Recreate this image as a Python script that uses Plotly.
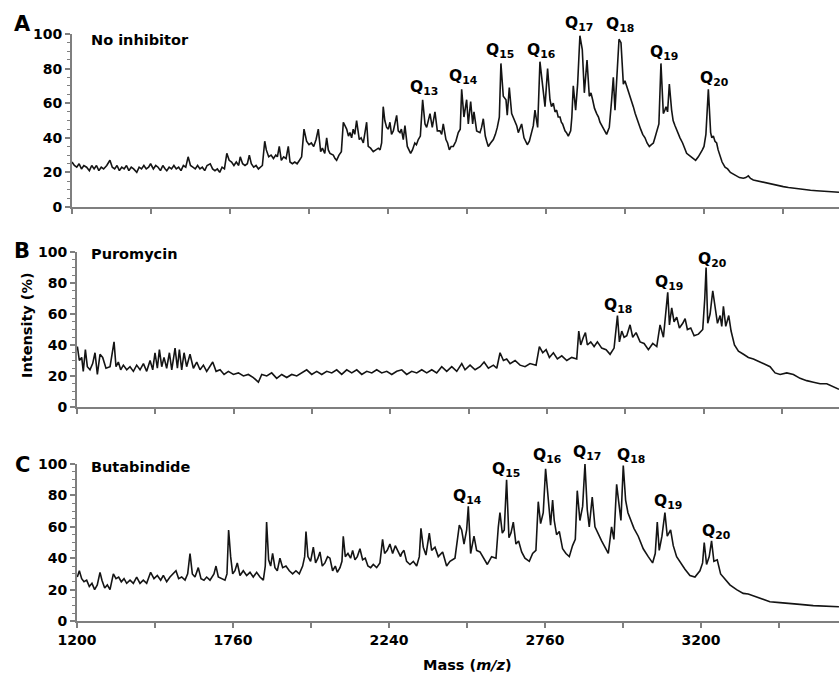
import plotly.graph_objects as go

# x values are spectrum channel positions (100 channels per axis tick)
tick_vals = [0, 200, 400, 600, 800]
tick_text = ["1200", "1760", "2240", "2760", "3200"]

A_x = [0, 3, 6, 9, 12, 15, 18.5, 22, 25, 28, 31, 34, 37, 40, 44, 48, 51, 54, 57, 60, 63, 66, 69, 72, 75, 78, 82, 85, 88, 91, 94, 97, 99.5,
       103, 106, 109, 112, 115, 118, 120, 123, 126, 129, 132, 135, 138, 141, 144, 147, 150, 153, 156, 159, 162, 165, 168, 171, 175, 178,
       181, 184, 187, 190, 193, 196, 199, 202, 205, 208, 211, 213, 216, 219, 222, 224.5, 227, 230, 233, 236, 239, 241, 244, 246, 249, 252,
       255, 258, 260, 262.4, 265, 268, 271, 273.8, 276, 279, 282, 285, 288, 290.7, 293.7, 297, 300, 303, 306, 309, 311.8, 314.8, 317, 320,
       322.4, 324.5, 326.6, 330.8, 333, 335, 338, 341, 343.5, 347.7, 350, 351.9, 354, 356, 358, 360.3, 363.7, 366, 368.8, 373, 375, 378,
       381.4, 384, 387.8, 390, 392, 394, 396, 398.3, 400.5, 402.5, 404.5, 406.8, 411, 413, 415.2, 417, 419.4, 421.5, 424.5, 428.7, 431,
       434, 436, 438.4, 441, 443.9, 446.9, 449, 451, 453.2, 456.1, 459.5, 462.5, 465.8, 468, 470, 473.4, 475.5, 477.7, 480, 482.7, 486,
       489, 491.5, 493.3, 496.2, 499.6, 501.7, 504.7, 507.2, 508.9, 512.3, 516.5, 518.5, 520.7, 523.2, 525, 527, 530, 533.4, 536, 538.4,
       541, 543, 546, 549.4, 551, 553.6, 556.6, 560.8, 563, 565, 569.2, 572.2, 574, 576.4, 579, 581.9, 584, 586.1, 589.5, 592.4, 595.8,
       598.8, 602.1, 605.1, 607, 609.3, 611.5, 613.5, 615.5, 617.8, 619.5, 621.1, 624.1, 626, 628.3, 631.3, 632.8, 634.6, 637.6, 640.1,
       643, 646, 648.6, 652, 654.9, 657, 659.1, 661.5, 664.2, 666.5, 668.4, 670.5, 672.6, 674.5, 676.8, 678.5, 680.2, 683.2, 685.3, 687.4,
       690.3, 692.5, 695, 698, 700, 702.2, 704.5, 706.4, 708.5, 710.6, 713, 715.7, 718, 719.9, 722.5, 725.4, 728, 730.9, 733.5, 736, 738,
       740.1, 743, 745.6, 748.6, 750.5, 752, 754, 756.2, 759.1, 761, 763.4, 766.5, 769.7, 773, 775.5, 778.1, 781, 784, 786.6, 789.5, 792.9,
       796, 798, 800.1, 802.5, 805.6, 808.5, 810, 811.9, 814, 816.1, 818, 820.3, 823, 826.7, 830, 833.5, 837.2, 841, 845, 849.9, 853,
       856.2, 859, 862.5, 868, 874, 879.4, 886, 893, 900.5, 907, 914, 921.6, 928, 935, 942.7, 950, 957, 964, 971]
A_y = [26, 24, 23, 25, 22, 24, 23, 21, 24, 22, 24, 21, 23, 22, 24, 27, 23, 22, 24, 21, 23, 22, 24, 21, 23, 22, 20, 23, 22, 24, 22, 23, 25,
       22, 24, 23, 21, 24, 22, 21, 23, 22, 24, 22, 23, 21, 24, 23, 29, 24, 23, 22, 24, 22, 23, 21, 24, 25, 22,
       21, 22, 20, 23, 22, 31, 27, 26, 24, 26, 24, 29, 25, 24, 25, 30, 25, 23, 24, 22, 23, 24, 38, 33, 29, 30,
       28, 30, 29, 35, 27, 29, 28, 35, 26, 25, 26, 25, 27, 29, 45, 38, 36, 37, 35, 39, 45, 32, 34, 31,
       40, 33, 31, 30, 28, 27, 30, 32, 49, 45, 41, 43, 40, 45, 42, 50, 39, 40, 37, 49, 35, 34,
       32, 33, 34, 33, 37, 58, 50, 46, 45, 49, 42, 44, 53, 44, 43, 45, 39, 47, 35, 31, 33,
       37, 36, 39, 41, 62, 48, 46, 50, 54, 46, 55, 44, 44, 42, 48, 39, 37, 33, 35, 35, 38,
       43, 45, 68, 52, 62, 48, 61, 48, 55, 44, 43, 46, 51, 41, 38, 35, 37, 39, 42, 46,
       52, 83, 64, 62, 53, 69, 54, 50, 47, 43, 48, 40, 38, 36, 38, 43, 47, 56, 46, 84, 71,
       58, 80, 62, 58, 60, 55, 56, 52, 52, 49, 48, 44, 43, 41, 44, 52, 70, 56, 71,
       99, 91, 66, 85, 64, 66, 62, 57, 54, 52, 49, 47, 45, 44, 42, 44, 46, 62, 75, 56,
       81, 97, 95, 71, 73, 70, 67, 65, 61, 58, 54, 50, 47, 45, 42, 40, 37, 35, 36, 37, 40,
       43, 48, 83, 54, 56, 58, 55, 71, 56, 50, 47, 43, 40, 37, 34, 31, 30, 29, 28, 27, 29,
       31, 33, 35, 42, 68, 43, 40, 41, 38, 37, 33, 29, 26, 23, 22, 20, 19, 18, 17, 16.6, 17,
       18, 16.5, 15.6, 15, 14.3, 13.7, 13, 12.3, 11.8, 11.3, 10.8, 10.4, 10, 9.7, 9.4, 9.1, 8.9, 8.7, 8.5]

B_x = [0.5, 3, 6, 8, 10.7, 13.2, 16.6, 20, 23, 26, 29.4, 32.8, 37, 42.2, 47.3, 49.8, 52.8, 55.8, 59.2, 63.5, 67.7, 72, 76.2, 80.5, 84.8,
       89, 93.3, 96.7, 99.6, 102.6, 105.2, 108.2, 111.1, 114.5, 118, 121, 125.2, 128.2, 130.7, 133.7, 136.7, 140, 144.3, 148.6, 152.9,
       157.1, 161.4, 165.6, 173.3, 177.6, 182.7, 187.8, 193.3, 199.7, 206.1, 212.5, 218.8, 225.2, 231.6, 235.9, 242.3, 248.6, 255, 261.4,
       267.8, 274.2, 280.6, 287, 293.3, 299.7, 306.1, 312.5, 318.9, 325.3, 331.6, 338, 344.4, 350.8, 357.2, 363.6, 370, 376.4, 382.7,
       389.1, 395.5, 401.9, 408.3, 414.7, 421, 427.4, 433.8, 440.2, 446.6, 453, 459.3, 465.7, 472.1, 478.5, 484.9, 491.3, 495.5, 501.9,
       508.3, 514.7, 519.8, 525.3, 531.7, 536, 540.2, 544.5, 548.7, 553, 559.4, 565.7, 572.1, 578.5, 586.2, 590.4, 594.7, 599, 603.2,
       608.3, 613.4, 619, 625.4, 631.7, 638.1, 640.7, 643.2, 646.6, 649.2, 651.7, 656, 660.3, 664.5, 670, 675.6, 680.7, 685.8, 690.1,
       692.6, 695.6, 698.6, 702, 706.2, 709.6, 713.9, 719, 724.1, 729.6, 735.2, 740.3, 744.5, 748.8, 754.3, 756.5, 759.4, 762.4, 765.8,
       769.2, 773.5, 776.5, 779.4, 783.7, 788, 793.5, 799, 801.6, 803.3, 805.4, 808.4, 811.8, 814.8, 817.8, 821.2, 823.3, 825.4, 828.4,
       832.2, 835.2, 839.5, 844.6, 851, 857.3, 863.7, 872.3, 878.6, 885, 891.4, 897.8, 906.3, 914.8, 923.3, 931.8, 940.4, 948.9, 957.4,
       965.9, 973]
B_y = [39, 30, 32, 23, 37, 26, 24, 28, 35, 21, 34, 32, 25, 26, 42, 26, 29, 24, 27, 24, 26, 23, 27, 24, 28,
       23, 30, 24, 35, 25, 37, 26, 32, 25, 35, 24, 38, 25, 37, 24, 35, 26, 34, 25, 29,
       24, 27, 23, 29, 23, 24, 21, 23, 21, 22, 20, 21, 19, 16, 21, 20, 22, 18.5, 21,
       19, 21, 20, 22, 24, 21, 23, 21, 23, 22, 24, 21, 24, 22, 24, 21, 23, 22, 24,
       22, 23, 21, 23, 24, 21, 23, 22, 24, 22, 24, 22, 26, 23, 26, 23, 28, 24, 27,
       24, 26, 29, 25, 27, 25, 35, 30, 31, 28, 30, 27, 26, 28, 27, 39, 35, 37, 32,
       35, 31, 33, 30, 32, 31, 49, 40, 45, 48, 40, 42, 39, 42, 38, 37, 34, 38, 59,
       42, 49, 45, 46, 53, 45, 48, 42, 41, 37, 41, 39, 53, 45, 74, 53, 64, 55, 58,
       51, 54, 57, 50, 51, 46, 47, 50, 70, 90, 54, 60, 75, 63, 54, 59, 52, 65, 52,
       59, 49, 40, 36, 34, 32, 31, 29, 28, 26, 22, 21, 22, 21, 18.5, 17, 16, 15, 15,
       13, 11.4]

C_x = [0.4, 3, 6, 9, 12.4, 15.8, 19.2, 22.6, 26, 29.5, 32, 35.5, 38.9, 42.3, 46.6, 50, 53.4, 56.8, 60.3, 63.7, 68, 72.2, 76.5, 80.8, 85,
       89.3, 94.4, 98.7, 103, 107.3, 110.7, 115, 119.2, 123.5, 126.9, 130.3, 134.2, 138.5, 141.9, 144.9, 147.9, 151.3, 155.5, 159, 162.8,
       166.2, 170.5, 175.6, 178.2, 181.2, 185.5, 189.7, 192.3, 194.4, 197, 199.6, 202.5, 205.5, 209, 213.2, 217.5, 221.8, 226, 230.3,
       234.6, 238.9, 241.4, 243.1, 245.7, 248.3, 250.8, 253.8, 256.8, 260.2, 263.7, 267.9, 272.2, 276.5, 280.7, 285, 289.3, 291.9, 293.6,
       296.1, 299.5, 303, 305.9, 308.9, 311.5, 314.5, 317.9, 321.3, 324.3, 327.7, 331.2, 333.7, 337.2, 339.7, 341.4, 344, 347.4, 350.8,
       353.4, 356.4, 359.4, 362.8, 366.2, 369.6, 373, 376.5, 379.9, 384.2, 388.4, 391.8, 394.4, 397.8, 401.2, 404.7, 408.1, 411.5, 414.9,
       416.2, 419.2, 422.6, 426.9, 431.2, 435.5, 438.9, 441, 444, 447.4, 451.7, 454.7, 459, 463.2, 468.8, 473.9, 478.2, 484.6, 490.2,
       493.2, 496.2, 499.6, 501.7, 504.7, 509, 512.4, 516.7, 520.9, 526.1, 531.6, 537.2, 540.2, 542.3, 545.3, 547.8, 550.8, 553.8, 556.4,
       559.4, 562.8, 566.2, 570.1, 574.3, 579.9, 584.2, 588.4, 591.4, 594.4, 597.8, 600.8, 603.4, 605.5, 607.2, 609.8, 611.9, 614.9, 618.4,
       622.6, 626.9, 631.2, 635.4, 638.9, 641.4, 644.8, 648.3, 651.3, 654.2, 656.8, 660.6, 664.1, 668.3, 672.6, 676.9, 681.2, 685.4, 688.4,
       691.9, 695.3, 697.4, 700.4, 703.4, 706.4, 709.8, 714.1, 719.6, 726, 732.4, 738, 741.4, 744, 746.5, 750, 753.8, 756.8, 761.1, 764.5,
       768.8, 773.9, 779.5, 785.9, 792.3, 798.7, 802.1, 804.2, 807.2, 810.6, 813.6, 816.6, 820.9, 825.2, 830.7, 837.1, 845.7, 854.2, 860.6,
       867, 875.6, 888.4, 901.2, 914, 926.9, 944, 961, 976.9]
C_y = [28, 32, 27, 25, 26, 22, 24, 20, 23, 31, 26, 21, 23, 20, 30, 27, 28, 25, 27, 24, 26, 24, 28, 24, 26,
       24, 31, 27, 29, 26, 29, 25, 28, 30, 32, 27, 28, 26, 30, 43, 30, 28, 34, 27, 26,
       28, 26, 30, 35, 28, 27, 26, 30, 58, 41, 30, 32, 37, 29, 32, 29, 31, 28, 31,
       28, 26, 35, 63, 39, 35, 43, 34, 32, 40, 34, 35, 32, 30, 32, 30, 35, 41, 57,
       41, 38, 47, 37, 40, 44, 35, 37, 41, 40, 32, 35, 31, 34, 38, 54, 41, 43, 40,
       45, 39, 41, 46, 39, 40, 35, 34, 36, 34, 37, 52, 43, 45, 49, 43, 48, 44, 41,
       43, 45, 38, 36, 38, 35, 41, 59, 47, 42, 56, 45, 47, 41, 44, 35, 38, 40, 61,
       58, 49, 58, 73, 43, 54, 45, 44, 40, 36, 41, 40, 60, 69, 56, 58, 90, 53, 56,
       63, 49, 51, 44, 40, 38, 43, 45, 76, 62, 69, 97, 81, 66, 61, 77, 64, 55, 57,
       46, 43, 41, 48, 52, 83, 64, 73, 100, 71, 60, 79, 60, 55, 51, 47, 43, 60, 52,
       87, 70, 64, 99, 77, 69, 64, 59, 54, 46, 41, 37, 43, 63, 45, 54, 69, 54, 58, 48,
       41, 37, 33, 29, 28, 32, 37, 50, 36, 41, 51, 38, 39, 30, 27, 23, 20, 17.6, 17.2,
       16, 14.4, 12.3, 11.7, 11.3, 10.6, 9.8, 9.6, 9.1]

panel_letters = ["A", "B", "C"]
panel_names = ["No inhibitor", "Puromycin", "Butabindide"]

# peak labels: (panel, n, channel, intensity of label centre)
peak_panel = ["A", "A", "A", "A", "A", "A", "A", "A",
              "B", "B", "B",
              "C", "C", "C", "C", "C", "C", "C"]
peak_n = [13, 14, 15, 16, 17, 18, 19, 20,
          18, 19, 20,
          14, 15, 16, 17, 18, 19, 20]
peak_x = [445, 495, 542, 594, 642, 694, 749, 813,
          691, 756, 811,
          501, 550, 603, 654, 710, 758, 820]
peak_y = [69, 75, 90, 90, 106, 105, 89, 74,
          65, 80, 95,
          79, 96, 105, 107, 105, 76, 57]

W, H = 839, 673
FONT = "DejaVu Sans"
AX = "#7f7f7f"

# pixel geometry of panels (left edge, top, bottom, x range max)
geo = {"A": (72, 34, 207, 971), "B": (77, 252, 407, 973), "C": (77, 464, 621, 977)}

fig = go.Figure()
series = {"A": (A_x, A_y), "B": (B_x, B_y), "C": (C_x, C_y)}
layout = dict(width=W, height=H, margin=dict(l=0, r=0, t=0, b=0, pad=0), template="none",
              paper_bgcolor="white", plot_bgcolor="white", showlegend=False)
annotations = []
for i, key in enumerate(panel_letters):
    sfx = "" if i == 0 else str(i + 1)
    left, top, bot, xmax = geo[key]
    xs, ys = series[key]
    fig.add_trace(go.Scatter(x=xs, y=ys, mode="lines", xaxis="x" + sfx, yaxis="y" + sfx,
                             line=dict(color="#141414", width=1.6), hoverinfo="skip"))
    layout["xaxis" + sfx] = dict(domain=[left / W, 1], range=[0, xmax], anchor="y" + sfx, automargin=False,
                                 showline=True, linecolor=AX, linewidth=2, ticks="outside",
                                 ticklen=5, tickwidth=1.5, tickcolor=AX,
                                 tickmode="array", tickvals=tick_vals, ticktext=tick_text,
                                 minor=dict(tick0=0, dtick=100, ticks="outside", ticklen=5,
                                            tickwidth=1.5, tickcolor=AX),
                                 showticklabels=(key == "C"), showgrid=False, zeroline=False,
                                 tickfont=dict(family=FONT, size=14, color="black", weight="bold"))
    layout["yaxis" + sfx] = dict(domain=[1 - bot / H, 1 - top / H], range=[0, 100], anchor="x" + sfx,
                                 automargin=False,
                                 showline=True, linecolor=AX, linewidth=2, ticks="outside",
                                 ticklen=5, tickwidth=1.5, tickcolor=AX,
                                 tickvals=[0, 20, 40, 60, 80, 100],
                                 minor=dict(dtick=5, ticks="outside", ticklen=3, tickwidth=1, tickcolor=AX),
                                 showgrid=False, zeroline=False,
                                 tickfont=dict(family=FONT, size=14, color="black", weight="bold"))
    letter_y = {"A": 24, "B": 251, "C": 465}[key]
    annotations.append(dict(text="<b>%s</b>" % key, x=22 / W, y=1 - letter_y / H, xref="paper", yref="paper",
                            xanchor="center", yanchor="middle", showarrow=False,
                            font=dict(family=FONT, size=21, color="black")))
    name_y = {"A": 40, "B": 254, "C": 467}[key]
    annotations.append(dict(text="<b>%s</b>" % panel_names[i], x=89 / W, y=1 - name_y / H,
                            xref="paper", yref="paper", xanchor="left", yanchor="middle", showarrow=False,
                            font=dict(family=FONT, size=14.5, color="black")))

for p, n, px_, py_ in zip(peak_panel, peak_n, peak_x, peak_y):
    sfx = {"A": "", "B": "2", "C": "3"}[p]
    annotations.append(dict(text="<b>Q<sub>%d</sub></b>" % n, x=px_, y=py_ / 100.0,
                            xref="x" + sfx, yref="y" + sfx + " domain",
                            xanchor="center", yanchor="middle", showarrow=False,
                            font=dict(family=FONT, size=15.5, color="black")))

annotations.append(dict(text="<b>Intensity (%)</b>", x=27 / W, y=1 - 325 / H, xref="paper", yref="paper",
                        textangle=-90, xanchor="center", yanchor="middle", showarrow=False,
                        font=dict(family=FONT, size=14.5, color="black")))
annotations.append(dict(text="<b>Mass (<i>m/z</i>)</b>", x=467 / W, y=1 - 665 / H, xref="paper", yref="paper",
                        xanchor="center", yanchor="middle", showarrow=False,
                        font=dict(family=FONT, size=14.5, color="black")))
layout["annotations"] = annotations
fig.update_layout(**layout)
fig.write_html("out.html")
